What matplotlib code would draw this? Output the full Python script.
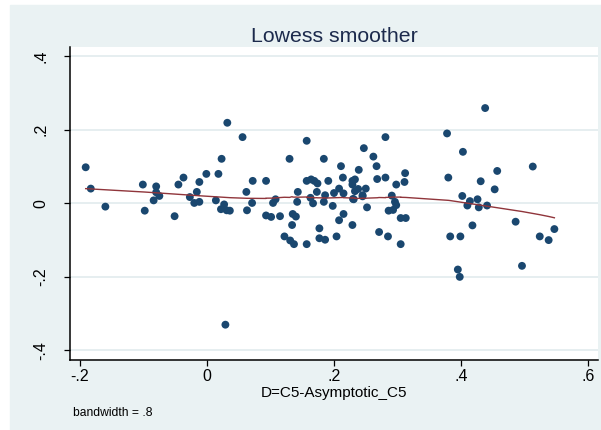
import matplotlib
matplotlib.use("Agg")
import matplotlib.pyplot as plt
from matplotlib.patches import Rectangle
import numpy as np

plt.rcParams['font.family'] = ['Liberation Sans', 'DejaVu Sans']

# scatter values
x_vals = [-0.191, -0.183, -0.160, -0.101, -0.098, -0.080, -0.080, -0.075, -0.084, -0.051,
          -0.045, -0.037, -0.027, -0.020, -0.016, -0.012, -0.012, -0.001, 0.018, 0.023,
          0.032, 0.056, 0.014, 0.027, 0.022, 0.031, 0.036, 0.063, 0.062, 0.072,
          0.071, 0.093, 0.093, 0.101, 0.104, 0.108, 0.115, 0.130, 0.135, 0.140,
          0.134, 0.143, 0.142, 0.157, 0.157, 0.164, 0.169, 0.174, 0.173, 0.163,
          0.167, 0.184, 0.184, 0.186, 0.177, 0.191, 0.122, 0.131, 0.137, 0.157,
          0.177, 0.186, 0.198, 0.215, 0.208, 0.229, 0.204, 0.230, 0.245, 0.252,
          0.271, 0.285, 0.305, 0.286, 0.293, 0.298, 0.296, 0.305, 0.313, 0.383,
          0.211, 0.214, 0.208, 0.200, 0.215, 0.229, 0.233, 0.229, 0.239, 0.247,
          0.262, 0.267, 0.268, 0.281, 0.281, 0.233, 0.238, 0.250, 0.245, 0.231,
          0.298, 0.312, 0.311, 0.291, 0.378, 0.380, 0.438, 0.403, 0.457, 0.513,
          0.431, 0.453, 0.402, 0.414, 0.426, 0.410, 0.428, 0.441, 0.418, 0.486,
          0.399, 0.524, 0.538, 0.547, 0.496, 0.395, 0.398, 0.029]
y_vals = [0.098, 0.040, -0.009, 0.051, -0.020, 0.046, 0.030, 0.020, 0.008, -0.035,
          0.051, 0.070, 0.017, 0.001, 0.031, 0.004, 0.058, 0.080, 0.080, 0.121,
          0.219, 0.180, 0.008, -0.003, -0.016, -0.019, -0.020, -0.019, 0.031, 0.061,
          0.001, 0.061, -0.033, -0.037, 0.001, 0.011, -0.035, 0.121, -0.029, -0.036,
          -0.059, 0.031, 0.004, 0.170, 0.061, 0.065, 0.061, 0.054, 0.031, 0.015,
          0.000, 0.121, 0.004, 0.022, -0.068, 0.061, -0.090, -0.101, -0.111, -0.111,
          -0.095, -0.099, -0.007, -0.029, -0.046, -0.059, -0.090, 0.012, 0.019, -0.011,
          -0.078, -0.090, -0.111, -0.020, -0.018, -0.005, 0.004, -0.040, -0.040, -0.090,
          0.101, 0.070, 0.040, 0.028, 0.027, 0.061, 0.065, 0.051, 0.091, 0.150,
          0.127, 0.101, 0.066, 0.180, 0.070, 0.033, 0.039, 0.040, 0.022, 0.011,
          0.051, 0.082, 0.058, 0.021, 0.190, 0.070, 0.259, 0.140, 0.088, 0.100,
          0.060, 0.038, 0.020, 0.006, 0.011, -0.006, -0.011, -0.006, -0.060, -0.050,
          -0.090, -0.090, -0.100, -0.070, -0.170, -0.180, -0.200, -0.330]

bandwidth = 0.8
x_ticks = [-0.2, 0, 0.2, 0.4, 0.6]
x_labels = ["-.2", "0", ".2", ".4", ".6"]
y_ticks = [-0.4, -0.2, 0, 0.2, 0.4]
y_labels = ["-.4", "-.2", "0", ".2", ".4"]


def lowess(x, y, bw):
    # running-line smoother with tricube weights, as Stata's lowess
    order = np.argsort(x)
    xs = np.asarray(x)[order]
    ys = np.asarray(y)[order]
    n = len(xs)
    k = int((n * bw - 0.5) / 2)
    fit = np.zeros(n)
    for i in range(n):
        lo = max(0, i - k)
        hi = min(n - 1, i + k)
        xw = xs[lo:hi + 1]
        yw = ys[lo:hi + 1]
        d = 1.0001 * max(xs[hi] - xs[i], xs[i] - xs[lo])
        w = (1 - (np.abs(xw - xs[i]) / d) ** 3) ** 3
        mx = np.sum(w * xw) / np.sum(w)
        my = np.sum(w * yw) / np.sum(w)
        b = np.sum(w * (xw - mx) * (yw - my)) / np.sum(w * (xw - mx) ** 2)
        fit[i] = my + b * (xs[i] - mx)
    return xs, fit


fig = plt.figure(figsize=(6.01, 4.30), dpi=100, facecolor="white")
fig.patches.append(Rectangle((10 / 601, 0), 591 / 601, 425 / 430,
                             transform=fig.transFigure, color="#eaf2f3", zorder=-10))

ax = fig.add_axes([70 / 601, 1 - 360 / 430, 528 / 601, 313 / 430])
ax.set_facecolor("white")
ax.set_xlim(-0.2157, 0.6157)
ax.set_ylim(-0.426, 0.425)

ax.yaxis.grid(True, color="#e6eef0", lw=1.4)
ax.set_axisbelow(True)

ax.scatter(x_vals, y_vals, s=32, color="#1a476f", edgecolors="none", zorder=3)
lx, ly = lowess(x_vals, y_vals, bandwidth)
ax.plot(lx, ly, color="#90353b", lw=1.0, zorder=4)

for side in ["top", "right"]:
    ax.spines[side].set_visible(False)
ax.spines["left"].set_color("black")
ax.spines["bottom"].set_color("black")
ax.spines["left"].set_linewidth(1.1)
ax.spines["bottom"].set_linewidth(1.1)

ax.set_xticks(x_ticks)
ax.set_xticklabels(x_labels)
ax.set_yticks(y_ticks)
ax.set_yticklabels(y_labels, rotation=90, va="center")
ax.tick_params(axis="x", length=4.3, width=0.9, labelsize=11.5, pad=2)
ax.tick_params(axis="y", length=4.3, width=0.9, labelsize=11.5, pad=11.5)

fig.text(334 / 601, 1 - 41.5 / 430, "Lowess smoother", ha="center", va="baseline",
         fontsize=15.3, color="#1c2a4c")
fig.text(334 / 601, 1 - 397 / 430, "D=C5-Asymptotic_C5", ha="center", va="baseline",
         fontsize=11)
fig.text(73 / 601, 1 - 416 / 430, "bandwidth = .8", ha="left", va="baseline",
         fontsize=8.7)

fig.savefig("out.png", dpi=100, facecolor=fig.get_facecolor())
